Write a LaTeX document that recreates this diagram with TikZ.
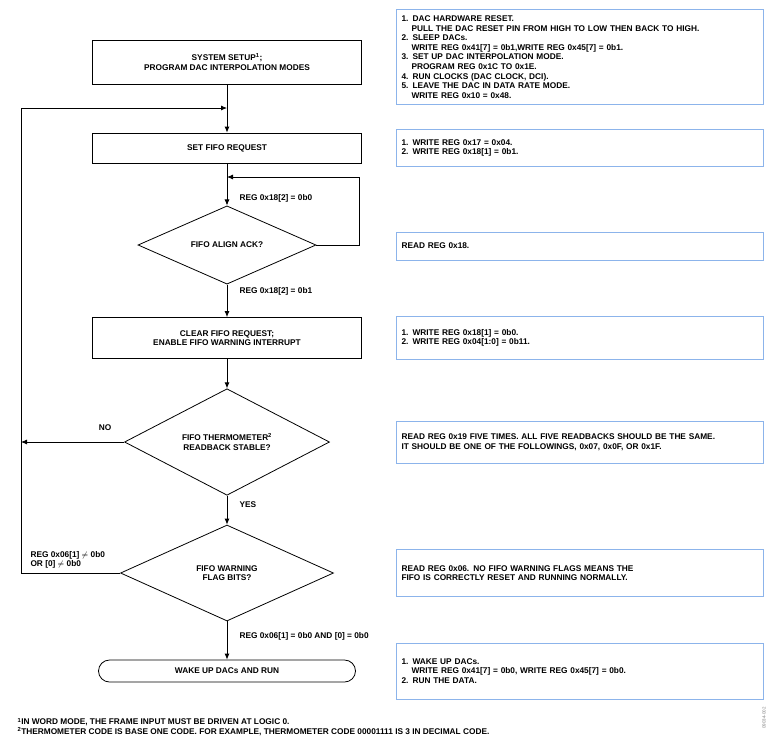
\documentclass[tikz,border=0pt]{standalone}
\usepackage{fontspec}
\setmainfont{Liberation Sans}
\usetikzlibrary{shapes.geometric,arrows.meta}
\definecolor{noteblue}{RGB}{140,180,235}
\tikzset{
  action/.style = {draw, thick, minimum width=269, align=center, inner sep=0},
  test/.style = {draw, thick, diamond, inner sep=0, align=center},
  note/.style = {draw=noteblue, thick, minimum width=367, text width=357, align=left, inner sep=0},
  flow/.style = {thick, -{Latex[length=6,width=5]}},
  lbl/.style  = {anchor=west, align=left},
}
\begin{document}
\begin{tikzpicture}[x=1pt, y=-1pt, font=\fontsize{8.3}{9.6}\selectfont\bfseries]
  \useasboundingbox (0, 0) rectangle (775, 748);
  % flow column
  \node[action, minimum height=44] (setup) at (227, 62) {SYSTEM SETUP\textsuperscript{1};\\PROGRAM DAC INTERPOLATION MODES};
  \node[action, minimum height=30] (req) at (227, 148) {SET FIFO REQUEST};
  \node[test, minimum width=178, minimum height=76] (ack) at (227, 245) {FIFO ALIGN ACK?};
  \node[action, minimum height=41] (clr) at (227, 338) {CLEAR FIFO REQUEST;\\ENABLE FIFO WARNING INTERRUPT};
  \node[test, minimum width=205, minimum height=97] (therm) at (227, 442) {FIFO THERMOMETER\textsuperscript{2}\\READBACK STABLE?};
  \node[test, minimum width=213, minimum height=96] (flag) at (227, 573) {FIFO WARNING\\FLAG BITS?};
  \node[draw, thick, rounded corners=11, minimum width=257, minimum height=22, inner sep=0] (run) at (227, 671) {WAKE UP DACs AND RUN};
  \coordinate (top) at (227, 108);
  \coordinate (inner) at (227, 177);
  % connectors
  \draw[flow] (setup) -- (req);
  \draw[flow] (req) -- (ack);
  \draw[flow] (ack.east) -- (359, 245) -- (359, 177) -- (inner);
  \draw[flow] (ack) -- (clr);
  \draw[flow] (clr) -- (therm);
  \draw[flow] (therm) -- (flag);
  \draw[flow] (flag) -- (run);
  \draw[flow] (therm.west) -- (21, 442);
  \draw[flow] (flag.west) -- (21, 573) -- (21, 108) -- (top);
  % branch labels
  \node[lbl] (l0) at (236, 198) {REG 0x18[2] = 0b0};
  \node[lbl] (l1) at (236, 291) {REG 0x18[2] = 0b1};
  \node (no) at (105, 428) {NO};
  \node[lbl] (yes) at (236, 505) {YES};
  \node[lbl] (bad) at (27, 560) {REG 0x06[1] $\neq$ 0b0\\OR [0] $\neq$ 0b0};
  \node[lbl] (ok) at (236, 636) {REG 0x06[1] = 0b0 AND [0] = 0b0};
  % notes
  \node[note, minimum height=95] (nA) at (580, 57) {1. DAC HARDWARE RESET.\\\hspace*{10pt}PULL THE DAC RESET PIN FROM HIGH TO LOW THEN BACK TO HIGH.\\2. SLEEP DACs.\\\hspace*{10pt}WRITE REG 0x41[7] = 0b1,WRITE REG 0x45[7] = 0b1.\\3. SET UP DAC INTERPOLATION MODE.\\\hspace*{10pt}PROGRAM REG 0x1C TO 0x1E.\\4. RUN CLOCKS (DAC CLOCK, DCI).\\5. LEAVE THE DAC IN DATA RATE MODE.\\\hspace*{10pt}WRITE REG 0x10 = 0x48.};
  \node[note, minimum height=37] (nB) at (580, 148) {1. WRITE REG 0x17 = 0x04.\\2. WRITE REG 0x18[1] = 0b1.\\[6pt]};
  \node[note, minimum height=28] (nC) at (580, 246) {READ REG 0x18.\\[3pt]};
  \node[note, minimum height=43] (nD) at (580, 338) {1. WRITE REG 0x18[1] = 0b0.\\2. WRITE REG 0x04[1:0] = 0b11.};
  \node[note, minimum height=42] (nE) at (580, 442) {READ REG 0x19 FIVE TIMES. ALL FIVE READBACKS SHOULD BE THE SAME.\\IT SHOULD BE ONE OF THE FOLLOWINGS, 0x07, 0x0F, OR 0x1F.};
  \node[note, minimum height=47] (nF) at (580, 573) {READ REG 0x06. NO FIFO WARNING FLAGS MEANS THE\\FIFO IS CORRECTLY RESET AND RUNNING NORMALLY.};
  \node[note, minimum height=56] (nG) at (580, 671) {1. WAKE UP DACs.\\\hspace*{10pt}WRITE REG 0x41[7] = 0b0, WRITE REG 0x45[7] = 0b0.\\2. RUN THE DATA.\\[4pt]};
  % footnotes
  \node[lbl] (fn) at (14, 727) {\textsuperscript{1}IN WORD MODE, THE FRAME INPUT MUST BE DRIVEN AT LOGIC 0.\\\textsuperscript{2}THERMOMETER CODE IS BASE ONE CODE. FOR EXAMPLE, THERMOMETER CODE 00001111 IS 3 IN DECIMAL CODE.};
  \node[rotate=90, font=\fontsize{4.5}{5}\selectfont, gray] (id) at (764, 718) {09034-002};
\end{tikzpicture}
\end{document}
